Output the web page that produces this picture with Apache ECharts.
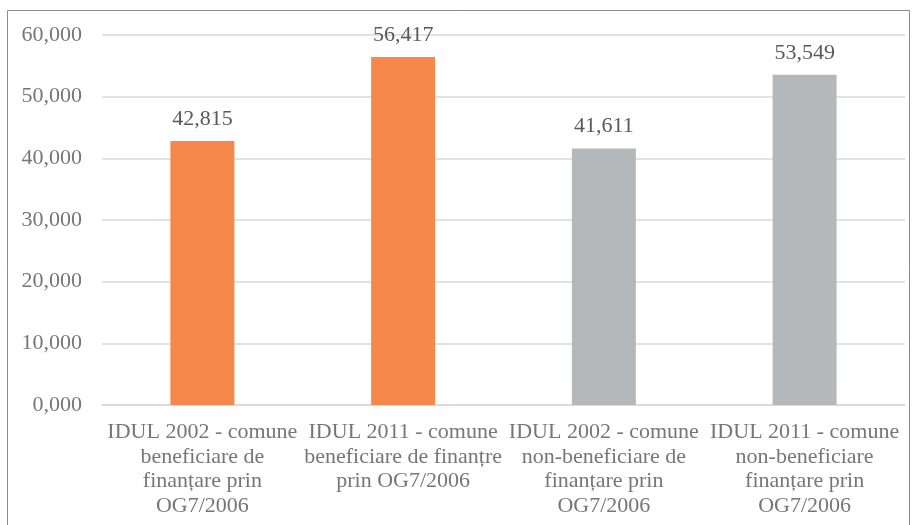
<!DOCTYPE html>
<html>
<head>
<meta charset="utf-8">
<script src="https://cdn.jsdelivr.net/npm/echarts@6/dist/echarts.min.js"></script>
<style>
  html, body { margin: 0; padding: 0; background: #fff; }
  #chart { width: 912px; height: 525px; }
</style>
</head>
<body>
<div id="chart"></div>
<script>
const categories = [
  'IDUL 2002 - comune\nbeneficiare de\nfinanțare prin\nOG7/2006',
  'IDUL 2011 - comune\nbeneficiare de finanțre\nprin OG7/2006',
  'IDUL 2002 - comune\nnon-beneficiare de\nfinanțare prin\nOG7/2006',
  'IDUL 2011 - comune\nnon-beneficiare\nfinanțare prin\nOG7/2006'
]
const values = [42.815, 56.417, 41.611, 53.549]
const barColors = ['#F5884A', '#F5884A', '#B5B8BB', '#B5B8BB']

const fmt = (v) => Number(v).toFixed(3).replace('.', ',')
const font = 'Liberation Serif, Times New Roman, serif'

const chart = echarts.init(document.getElementById('chart'))

chart.setOption({
  animation: false,
  backgroundColor: '#fff',
  graphic: [
    {
      type: 'rect',
      shape: { x: 7.5, y: 10.5, width: 902, height: 530 },
      style: { fill: 'none', stroke: '#8a8a8a', lineWidth: 1 },
      silent: true
    }
  ],
  grid: { left: 102, right: 7, top: 35, bottom: 120 },
  xAxis: {
    type: 'category',
    data: categories,
    axisLine: { lineStyle: { color: '#d9d9d9', width: 1.5 } },
    axisTick: { show: false },
    axisLabel: {
      interval: 0,
      color: '#767676',
      fontFamily: font,
      fontSize: 22,
      lineHeight: 24.5,
      margin: 15
    }
  },
  yAxis: {
    type: 'value',
    min: 0,
    max: 60,
    interval: 10,
    axisLine: { show: false },
    axisTick: { show: false },
    splitLine: { lineStyle: { color: '#d9d9d9', width: 1.5 } },
    axisLabel: {
      color: '#767676',
      fontFamily: font,
      fontSize: 22,
      margin: 20,
      formatter: fmt
    }
  },
  series: [
    {
      type: 'bar',
      barWidth: 64,
      data: values.map((v, i) => ({ value: v, itemStyle: { color: barColors[i] } })),
      label: {
        show: true,
        position: 'top',
        distance: 11,
        color: '#595959',
        fontFamily: font,
        fontSize: 22,
        formatter: (p) => fmt(p.value)
      }
    }
  ]
})
</script>
</body>
</html>
